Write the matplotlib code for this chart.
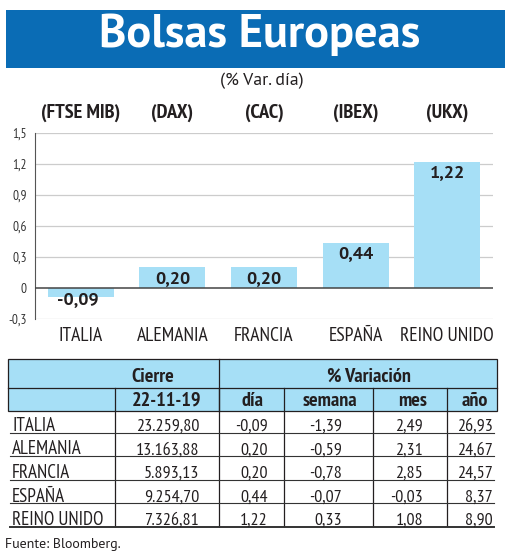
import matplotlib
matplotlib.use("Agg")
import matplotlib.pyplot as plt
from matplotlib.patches import Rectangle

# ---------------- data ----------------
countries = ["ITALIA", "ALEMANIA", "FRANCIA", "ESPAÑA", "REINO UNIDO"]
indices = ["(FTSE MIB)", "(DAX)", "(CAC)", "(IBEX)", "(UKX)"]
var_dia = [-0.09, 0.20, 0.20, 0.44, 1.22]
yticks = [-0.3, 0, 0.3, 0.6, 0.9, 1.2, 1.5]
ytick_labels = ["-0,3", "0", "0,3", "0,6", "0,9", "1,2", "1,5"]

cierre = ["23.259,80", "13.163,88", "5.893,13", "9.254,70", "7.326,81"]
t_dia = ["-0,09", "0,20", "0,20", "0,44", "1,22"]
t_semana = ["-1,39", "-0,59", "-0,78", "-0,07", "0,33"]
t_mes = ["2,49", "2,31", "2,85", "-0,03", "1,08"]
t_anio = ["26,93", "24,67", "24,57", "8,37", "8,90"]
header_top = ["Cierre", "% Variación"]
header_sub = ["22-11-19", "día", "semana", "mes", "año"]

title = "Bolsas Europeas"
subtitle = "(% Var. día)"
source = "Fuente: Bloomberg."

def fmt(v):
    return f"{v:.2f}".replace(".", ",")

NARROW = ["PT Sans Narrow", "DejaVu Sans"]
WIDE = ["PT Sans", "DejaVu Sans"]
plt.rcParams["font.family"] = NARROW

BLUE = "#0a6cb5"
LIGHT = "#a6dff6"
DARK = "#231f20"

W, H = 520, 557
fig = plt.figure(figsize=(W / 100, H / 100), dpi=100)
fig.patch.set_facecolor("white")

ov = fig.add_axes([0, 0, 1, 1], zorder=0)
ov.set_xlim(0, W)
ov.set_ylim(H, 0)
ov.axis("off")

# Title
ov.add_patch(Rectangle((6, 10), 499, 58, facecolor=BLUE, edgecolor="none"))
ov.text(259.5, 47.5, title, color="white", fontsize=33.5, fontweight="bold",
        family=WIDE, ha="center", va="baseline")
ov.text(262, 85, subtitle, color=DARK, fontsize=12.8, family=WIDE, ha="center", va="baseline")

# Bar chart
x0, x1, ytop, ybot = 35, 493, 133, 319
ax = fig.add_axes([x0 / W, 1 - ybot / H, (x1 - x0) / W, (ybot - ytop) / H], zorder=1)
ax.patch.set_alpha(0)
xs = list(range(len(countries)))
ax.bar(xs, var_dia, width=0.72, color=LIGHT, zorder=2)
ax.set_xlim(-0.5, 4.5)
ax.set_ylim(-0.3, 1.5)
ax.set_yticks(yticks)
ax.set_yticklabels(ytick_labels, fontsize=9.5, color="#333333")
for t in yticks:
    if t == 0:
        ax.axhline(0, color="#444444", lw=1.1, zorder=3)
    else:
        ax.axhline(t, color="#cccccc", lw=0.9, zorder=1)
for s in ["top", "right", "bottom"]:
    ax.spines[s].set_visible(False)
ax.spines["left"].set_color("#555555")
ax.tick_params(axis="y", length=0, pad=6)
ax.set_xticks(xs)
ax.set_xticklabels(countries, fontsize=14, color=DARK)
ax.tick_params(axis="x", length=0, pad=6)

for x, v in zip(xs, var_dia):
    if v >= 0:
        ax.annotate(fmt(v), (x, v), xytext=(0, -8.5), textcoords="offset points",
                    ha="center", va="center", fontsize=13, fontweight="bold",
                    family=WIDE, color=DARK, zorder=4)
    else:
        ax.annotate(fmt(v), (x, 0), xytext=(-2, -9), textcoords="offset points",
                    ha="center", va="center", fontsize=13, fontweight="bold",
                    family=WIDE, color=DARK, zorder=4)

for x, lab in zip(xs, indices):
    px = x0 + (x + 0.5) / 5 * (x1 - x0)
    ov.text(px, 118, lab, fontsize=14.7, fontweight="bold", color=DARK,
            ha="center", va="baseline")

# Table
tl, tr = 8, 497
h0, h1, h2 = 359, 388, 411
seps = [115, 219, 284, 373, 447]
ov.add_patch(Rectangle((tl, h0), tr - tl, h2 - h0, facecolor=LIGHT, edgecolor=DARK, lw=0.9))
ov.plot([tl, tr], [h1, h1], color=DARK, lw=0.9)
ov.plot([219, 219], [h0, h2], color=DARK, lw=0.9)
for sx in seps:
    ov.plot([sx, sx], [h1, 526], color=DARK, lw=0.9)

for cx, lab in zip([153, 369], header_top):
    ov.text(cx, 382, lab, fontsize=14.5, fontweight="bold", color=DARK, ha="center", va="baseline")
for cx, lab in zip([167, 252, 330, 413, 475], header_sub):
    ov.text(cx, 406, lab, fontsize=14.5, fontweight="bold", color=DARK, ha="center", va="baseline")

row_base = [431, 454.5, 478, 501.5, 525]
right_x = [199, 268, 342, 423, 493]
for i, yb in enumerate(row_base):
    ov.text(12, yb, countries[i], fontsize=13.7, color=DARK, ha="left", va="baseline")
    for rx, col in zip(right_x, [cierre, t_dia, t_semana, t_mes, t_anio]):
        ov.text(rx, yb, col[i], fontsize=13, color=DARK, ha="right", va="baseline")
    lw = 1.4 if i == len(row_base) - 1 else 0.8
    ov.plot([10, 494], [yb + 1.8, yb + 1.8], color="#333333", lw=lw)

ov.text(5, 548, source, fontsize=10, color=DARK, family=WIDE, ha="left", va="baseline")

fig.savefig("out.png", dpi=100, facecolor="white")
